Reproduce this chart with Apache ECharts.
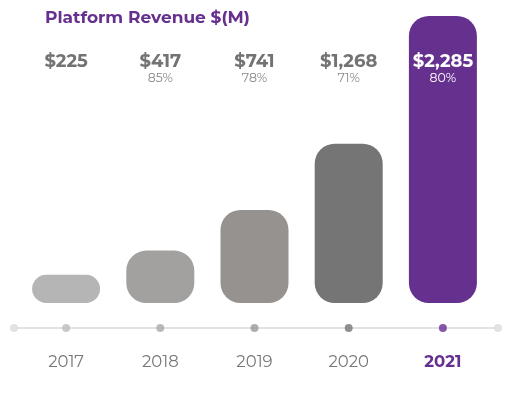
<!DOCTYPE html>
<html>
<head>
    <meta charset="UTF-8">
    <title>Platform Revenue</title>
    <script src="https://cdn.jsdelivr.net/npm/echarts@6/dist/echarts.min.js"></script>
    <style>
        html, body { margin: 0; padding: 0; background: #fff; }
        #container { width: 518px; height: 397px; }
    </style>
</head>
<body>
<div id="container"></div>
<script>
    // data
    var years = ['2017', '2018', '2019', '2020', '2021'];
    var revenue = [225, 417, 741, 1268, 2285];
    var growth = ['', '85%', '78%', '71%', '80%'];
    var barColors = ['#b5b5b5', '#a2a19f', '#95928f', '#757575', '#66308f'];
    var dotColors = ['#bcbcbc', '#a9a9a9', '#9a9a9a', '#757575', '#66308f'];

    var purple = '#66308f';
    var FONT = 'Montserrat, Lato, "Open Sans", sans-serif';

    var mychart = echarts.init(document.getElementById('container'));

    var option = {
        animation: false,
        backgroundColor: '#fff',
        title: {
            text: 'Platform Revenue $(M)',
            left: 40,
            top: 4,
            textStyle: { color: purple, fontSize: 17, fontWeight: 'bold', fontFamily: FONT }
        },
        grid: [
            { left: 19, right: 28, top: 16, bottom: 94 },
            // second grid only carries the long timeline line
            { left: 14, right: 20, top: 16, bottom: 69 }
        ],
        xAxis: [
            {
                type: 'category',
                gridIndex: 0,
                data: years,
                offset: 25,
                axisLine: { show: false },
                axisTick: { show: false },
                axisLabel: {
                    margin: 26,
                    fontSize: 16,
                    fontFamily: FONT,
                    formatter: function (v, i) {
                        return i === years.length - 1 ? '{hi|' + v + '}' : '{n|' + v + '}';
                    },
                    rich: {
                        n: { color: '#777', fontSize: 16.5, fontFamily: FONT },
                        hi: { color: purple, fontSize: 16.5, fontWeight: 'bold', fontFamily: FONT }
                    }
                }
            },
            {
                // value + growth labels along the top
                type: 'category',
                gridIndex: 0,
                position: 'top',
                data: years,
                offset: -78,
                z: 10,
                axisLine: { show: false },
                axisTick: { show: false },
                axisLabel: {
                    margin: 8,
                    formatter: function (v, i) {
                        var hi = i === years.length - 1;
                        var s = (hi ? '{vw|' : '{v|') + '$' + revenue[i].toLocaleString('en-US') + '}';
                        s += '\n' + (hi ? '{pw|' : '{p|') + (growth[i] || ' ') + '}';
                        return s;
                    },
                    rich: {
                        v: { color: '#737373', fontSize: 18, fontWeight: 'bold', fontFamily: FONT, lineHeight: 18 },
                        vw: { color: '#fff', fontSize: 18, fontWeight: 'bold', fontFamily: FONT, lineHeight: 18 },
                        p: { color: '#888', fontSize: 12.5, fontFamily: FONT, lineHeight: 15 },
                        pw: { color: '#fff', fontSize: 12.5, fontFamily: FONT, lineHeight: 15 }
                    }
                }
            },
            {
                type: 'category',
                gridIndex: 1,
                data: years,
                axisTick: { show: false },
                axisLabel: { show: false },
                axisLine: {
                    show: true,
                    symbol: ['circle', 'circle'],
                    symbolSize: [8, 8],
                    lineStyle: { color: '#e2e2e2', width: 2 }
                }
            }
        ],
        yAxis: [
            { type: 'value', gridIndex: 0, min: 0, max: 'dataMax', show: false },
            { type: 'value', gridIndex: 1, show: false }
        ],
        series: [
            {
                type: 'bar',
                xAxisIndex: 0,
                yAxisIndex: 0,
                barWidth: 68,
                z: 1,
                data: revenue.map(function (v, i) {
                    return { value: v, itemStyle: { color: barColors[i], borderRadius: 20 } };
                })
            },
            {
                type: 'scatter',
                xAxisIndex: 0,
                yAxisIndex: 0,
                symbolSize: 8,
                symbolOffset: [0, 25],
                z: 5,
                data: revenue.map(function (v, i) {
                    return { value: 0, itemStyle: { color: dotColors[i] } };
                })
            }
        ]
    };

    mychart.setOption(option);
</script>
</body>
</html>
